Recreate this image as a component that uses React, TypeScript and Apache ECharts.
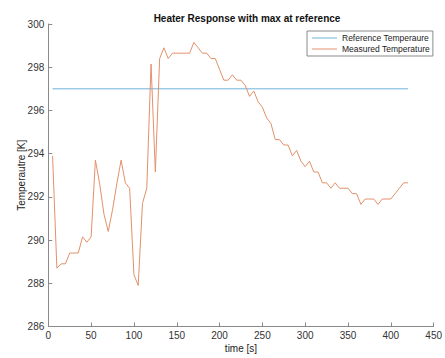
import React, { useEffect, useRef } from "react";
import * as echarts from "echarts";

const titleText = "Heater Response with max at reference";
const xName = "time [s]";
const yName = "Temperautre [K]";
const seriesNames = ["Reference Temperaure", "Measured Temperature"];

const timeSec = [
  5, 10, 15, 20, 25, 30, 35, 40, 45, 50, 55, 60, 65, 70, 75, 80, 85, 90, 95, 100,
  105, 110, 115, 120, 125, 130, 135, 140, 145, 150, 155, 160, 165, 170, 175, 180, 185, 190, 195, 200,
  205, 210, 215, 220, 225, 230, 235, 240, 245, 250, 255, 260, 265, 270, 275, 280, 285, 290, 295, 300,
  305, 310, 315, 320, 325, 330, 335, 340, 345, 350, 355, 360, 365, 370, 375, 380, 385, 390, 395, 400,
  405, 410, 415, 420,
];

const measuredTemp = [
  293.9, 288.7, 288.9, 288.9, 289.4, 289.4, 289.4, 290.15, 289.9, 290.15,
  293.7, 292.6, 291.2, 290.4, 291.4, 292.6, 293.7, 292.65, 292.4, 288.4,
  287.9, 291.7, 292.4, 298.15, 293.15, 298.4, 298.9, 298.4, 298.65, 298.65,
  298.65, 298.65, 298.65, 299.15, 298.9, 298.65, 298.65, 298.4, 298.4, 297.9,
  297.4, 297.4, 297.65, 297.4, 297.4, 297.15, 296.65, 296.9, 296.4, 296.15,
  295.65, 295.4, 294.65, 294.65, 294.4, 294.4, 293.9, 294.15, 293.65, 293.4,
  293.65, 293.15, 293.15, 292.65, 292.65, 292.4, 292.65, 292.4, 292.4, 292.4,
  292.15, 292.15, 291.65, 291.9, 291.9, 291.9, 291.65, 291.9, 291.9, 291.9,
  292.15, 292.4, 292.65, 292.65,
];

const referenceTemp = 297;

const xTicks = { min: 0, max: 450, interval: 50 };
const yTicks = { min: 286, max: 300, interval: 2 };

const FONT = "'Liberation Sans', Arial, Helvetica, sans-serif";
const BLUE = "#6db2d9";
const ORANGE = "#e3916a";

export default function App() {
  const ref = useRef<HTMLDivElement>(null);

  useEffect(() => {
    if (!ref.current) return;
    const chart = echarts.init(ref.current, undefined, { renderer: "svg" });
    const refData = [
      [timeSec[0], referenceTemp],
      [timeSec[timeSec.length - 1], referenceTemp],
    ];
    const measData = timeSec.map((t, i) => [t, measuredTemp[i]]);
    const axisCommon = {
      axisLine: { show: true, lineStyle: { color: "#8a8a8a", width: 1 } },
      axisTick: { show: true, inside: true, length: 4, lineStyle: { color: "#8a8a8a" } },
      splitLine: { show: false },
      axisLabel: { color: "#333", fontSize: 10, fontFamily: FONT, margin: 4 },
      nameTextStyle: { color: "#222", fontSize: 10, fontFamily: FONT },
      nameMoveOverlap: false,
    };
    chart.setOption({
      animation: false,
      backgroundColor: "#fff",
      title: {
        text: titleText,
        left: 242,
        textAlign: "center",
        top: 8,
        textStyle: { fontSize: 10, fontWeight: "bold", color: "#111", fontFamily: FONT },
      },
      legend: {
        orient: "vertical",
        left: 307,
        top: 31,
        padding: [2, 3, 2, 5],
        itemGap: 1,
        itemWidth: 25,
        itemHeight: 1,
        icon: "rect",
        borderColor: "#8a8a8a",
        borderWidth: 1,
        backgroundColor: "#fff",
        textStyle: { fontSize: 8.5, color: "#222", fontFamily: FONT, lineHeight: 10 },
        data: seriesNames,
      },
      grid: { left: 48.3, right: 9.3, top: 24, bottom: 27.7, containLabel: false },
      xAxis: {
        type: "value",
        min: xTicks.min,
        max: xTicks.max,
        interval: xTicks.interval,
        name: xName,
        nameLocation: "middle",
        nameGap: 16.5,
        ...axisCommon,
      },
      yAxis: {
        type: "value",
        min: yTicks.min,
        max: yTicks.max,
        interval: yTicks.interval,
        name: yName,
        nameLocation: "middle",
        nameGap: 21.5,
        ...axisCommon,
      },
      series: [
        {
          name: seriesNames[0],
          type: "line",
          data: refData,
          symbol: "none",
          lineStyle: { color: BLUE, width: 1 },
          itemStyle: { color: BLUE },
        },
        {
          name: seriesNames[1],
          type: "line",
          data: measData,
          symbol: "none",
          lineStyle: { color: ORANGE, width: 1 },
          itemStyle: { color: ORANGE },
        },
      ],
    });
    return () => chart.dispose();
  }, []);

  return (
    <div
      ref={ref}
      style={{ position: "fixed", left: 0, top: 0, width: 445, height: 358 }}
    />
  );
}
